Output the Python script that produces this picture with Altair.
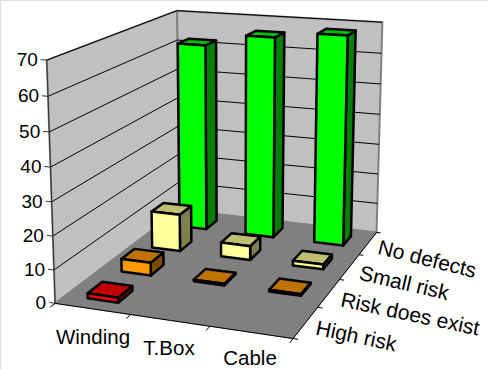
import altair as alt
import numpy as np
import pandas as pd

# Survey results: share of components per risk class
components = ["Winding", "T.Box", "Cable"]
risk_classes = ["High risk", "Risk does exist", "Small risk", "No defects"]
high_risk = [1.5, 0, 0]
risk_exists = [4, 0.5, 0.5]
small_risk = [12, 4.5, 1.5]
no_defects = [62, 66, 68]
value_ticks = [0, 10, 20, 30, 40, 50, 60, 70]

front_colors = ["#FF0000", "#FF9900", "#FFFF99", "#00FF00"]
top_colors = ["#BF0000", "#BF7300", "#BFBF73", "#00BF00"]
side_colors = ["#800000", "#804D00", "#80804D", "#008000"]

W, H = 488, 369
ZMAX = 70.0
BAR_W = 0.41
BAR_D = 0.42

# Perspective camera solved from the corners of the plot box: (category, depth, value) -> screen
box = [
    ((0, 0, 0), (56, 304)), ((3, 0, 0), (293, 338)), ((3, 4, 0), (377, 233)),
    ((0, 4, 0), (178, 209)), ((0, 0, 70), (46, 60)), ((0, 4, 70), (178, 11)),
    ((3, 4, 70), (382, 22)),
]
rows, rhs = [], []
for (a, b, c), (u, v) in box:
    a, b, c = a / 3, b / 4, c / ZMAX
    rows.append([a, b, c, 1, 0, 0, 0, 0, -u * a, -u * b, -u * c]); rhs.append(u)
    rows.append([0, 0, 0, 0, a, b, c, 1, -v * a, -v * b, -v * c]); rhs.append(v)
cam = np.append(np.linalg.lstsq(np.array(rows, float), np.array(rhs, float), rcond=None)[0], 1).reshape(3, 4)


def project(a, b, c):
    p = cam @ np.array([a / 3, b / 4, c / ZMAX, 1.0])
    return p[0] / p[2], p[1] / p[2]


sx = alt.Scale(domain=[0, W], range=[0, W])
sy = alt.Scale(domain=[0, H], range=[0, H])
X = alt.X("x:Q", scale=sx, axis=None)
Y = alt.Y("y:Q", scale=sy, axis=None)
layers = []


def polygon(corners, fill, stroke, width):
    pts = [project(*c) for c in corners]
    df = pd.DataFrame({"x": [p[0] for p in pts], "y": [p[1] for p in pts], "i": range(len(pts))})
    layers.append(alt.Chart(df).mark_line(interpolate="linear-closed", fill=fill, stroke=stroke,
                                          strokeWidth=width, strokeJoin="round")
                  .encode(x=X, y=Y, order="i:Q"))


def segment(p, q, color, width):
    a, b = project(*p), project(*q)
    df = pd.DataFrame({"x": [a[0], b[0]], "y": [a[1], b[1]], "i": [0, 1]})
    layers.append(alt.Chart(df).mark_line(stroke=color, strokeWidth=width).encode(x=X, y=Y, order="i:Q"))


def label(text, pos, size, angle=0, align="center"):
    df = pd.DataFrame({"x": [pos[0]], "y": [pos[1]], "t": [text]})
    layers.append(alt.Chart(df).mark_text(font="Liberation Sans", fontSize=size, angle=angle, align=align,
                                          baseline="middle", color="black")
                  .encode(x=X, y=Y, text="t:N"))


# Walls and floor
polygon([(0, 4, 0), (3, 4, 0), (3, 4, 70), (0, 4, 70)], "#C0C0C0", "#808080", 2)
polygon([(0, 0, 0), (0, 4, 0), (0, 4, 70), (0, 0, 70)], "#C0C0C0", "#808080", 2)
polygon([(0, 0, 0), (3, 0, 0), (3, 4, 0), (0, 4, 0)], "#808080", "#808080", 1)

# Gridlines on both walls
for v in value_ticks[1:]:
    segment((0, 0, v), (0, 4, v), "#000000", 1)
    segment((0, 4, v), (3, 4, v), "#000000", 1)

# Axis lines and ticks
segment((0, 0, 0), (0, 0, 70), "#333333", 1)
segment((0, 0, 0), (3, 0, 0), "#000000", 1)
segment((3, 0, 0), (3, 4, 0), "#000000", 1)
for v in value_ticks:
    segment((0, 0, v), (-0.08, 0, v), "#333333", 1)
    px, py = project(0, 0, v)
    label(str(v), (px - 9, py), 19, align="right")
for i in range(4):
    segment((i, 0, 0), (i, -0.13, 0), "#000000", 1)
for j in range(5):
    segment((3, j, 0), (3.06, j, 0), "#000000", 1)

# Columns, painted from the back row to the front
series = [high_risk, risk_exists, small_risk, no_defects]
for j in range(3, -1, -1):
    for i in range(3):
        v = series[j][i]
        if v <= 0:
            continue
        x0, x1 = i + 0.5 - BAR_W / 2, i + 0.5 + BAR_W / 2
        y0, y1 = j + 0.5 - BAR_D / 2, j + 0.5 + BAR_D / 2
        polygon([(x1, y0, 0), (x1, y1, 0), (x1, y1, v), (x1, y0, v)], side_colors[j], "#000000", 2.5)
        polygon([(x0, y0, v), (x1, y0, v), (x1, y1, v), (x0, y1, v)], top_colors[j], "#000000", 2.5)
        polygon([(x0, y0, 0), (x1, y0, 0), (x1, y0, v), (x0, y0, v)], front_colors[j], "#000000", 2.5)

# Category and depth captions
for name, pos in zip(components, [(93, 338), (169, 349), (250, 359)]):
    label(name, pos, 20.5)
for name, pos, ang in zip(risk_classes, [(356, 337), (410, 315), (404, 284), (427, 260)], [12, 12, 13, 14]):
    label(name, pos, 21, angle=ang)

chart = alt.layer(*layers).properties(width=W, height=H, padding=0, autosize=alt.AutoSizeParams(type="none")) \
    .configure_view(stroke=None).configure(background="white")
chart.save("out.html", embed_options={"renderer": "svg", "actions": False})
